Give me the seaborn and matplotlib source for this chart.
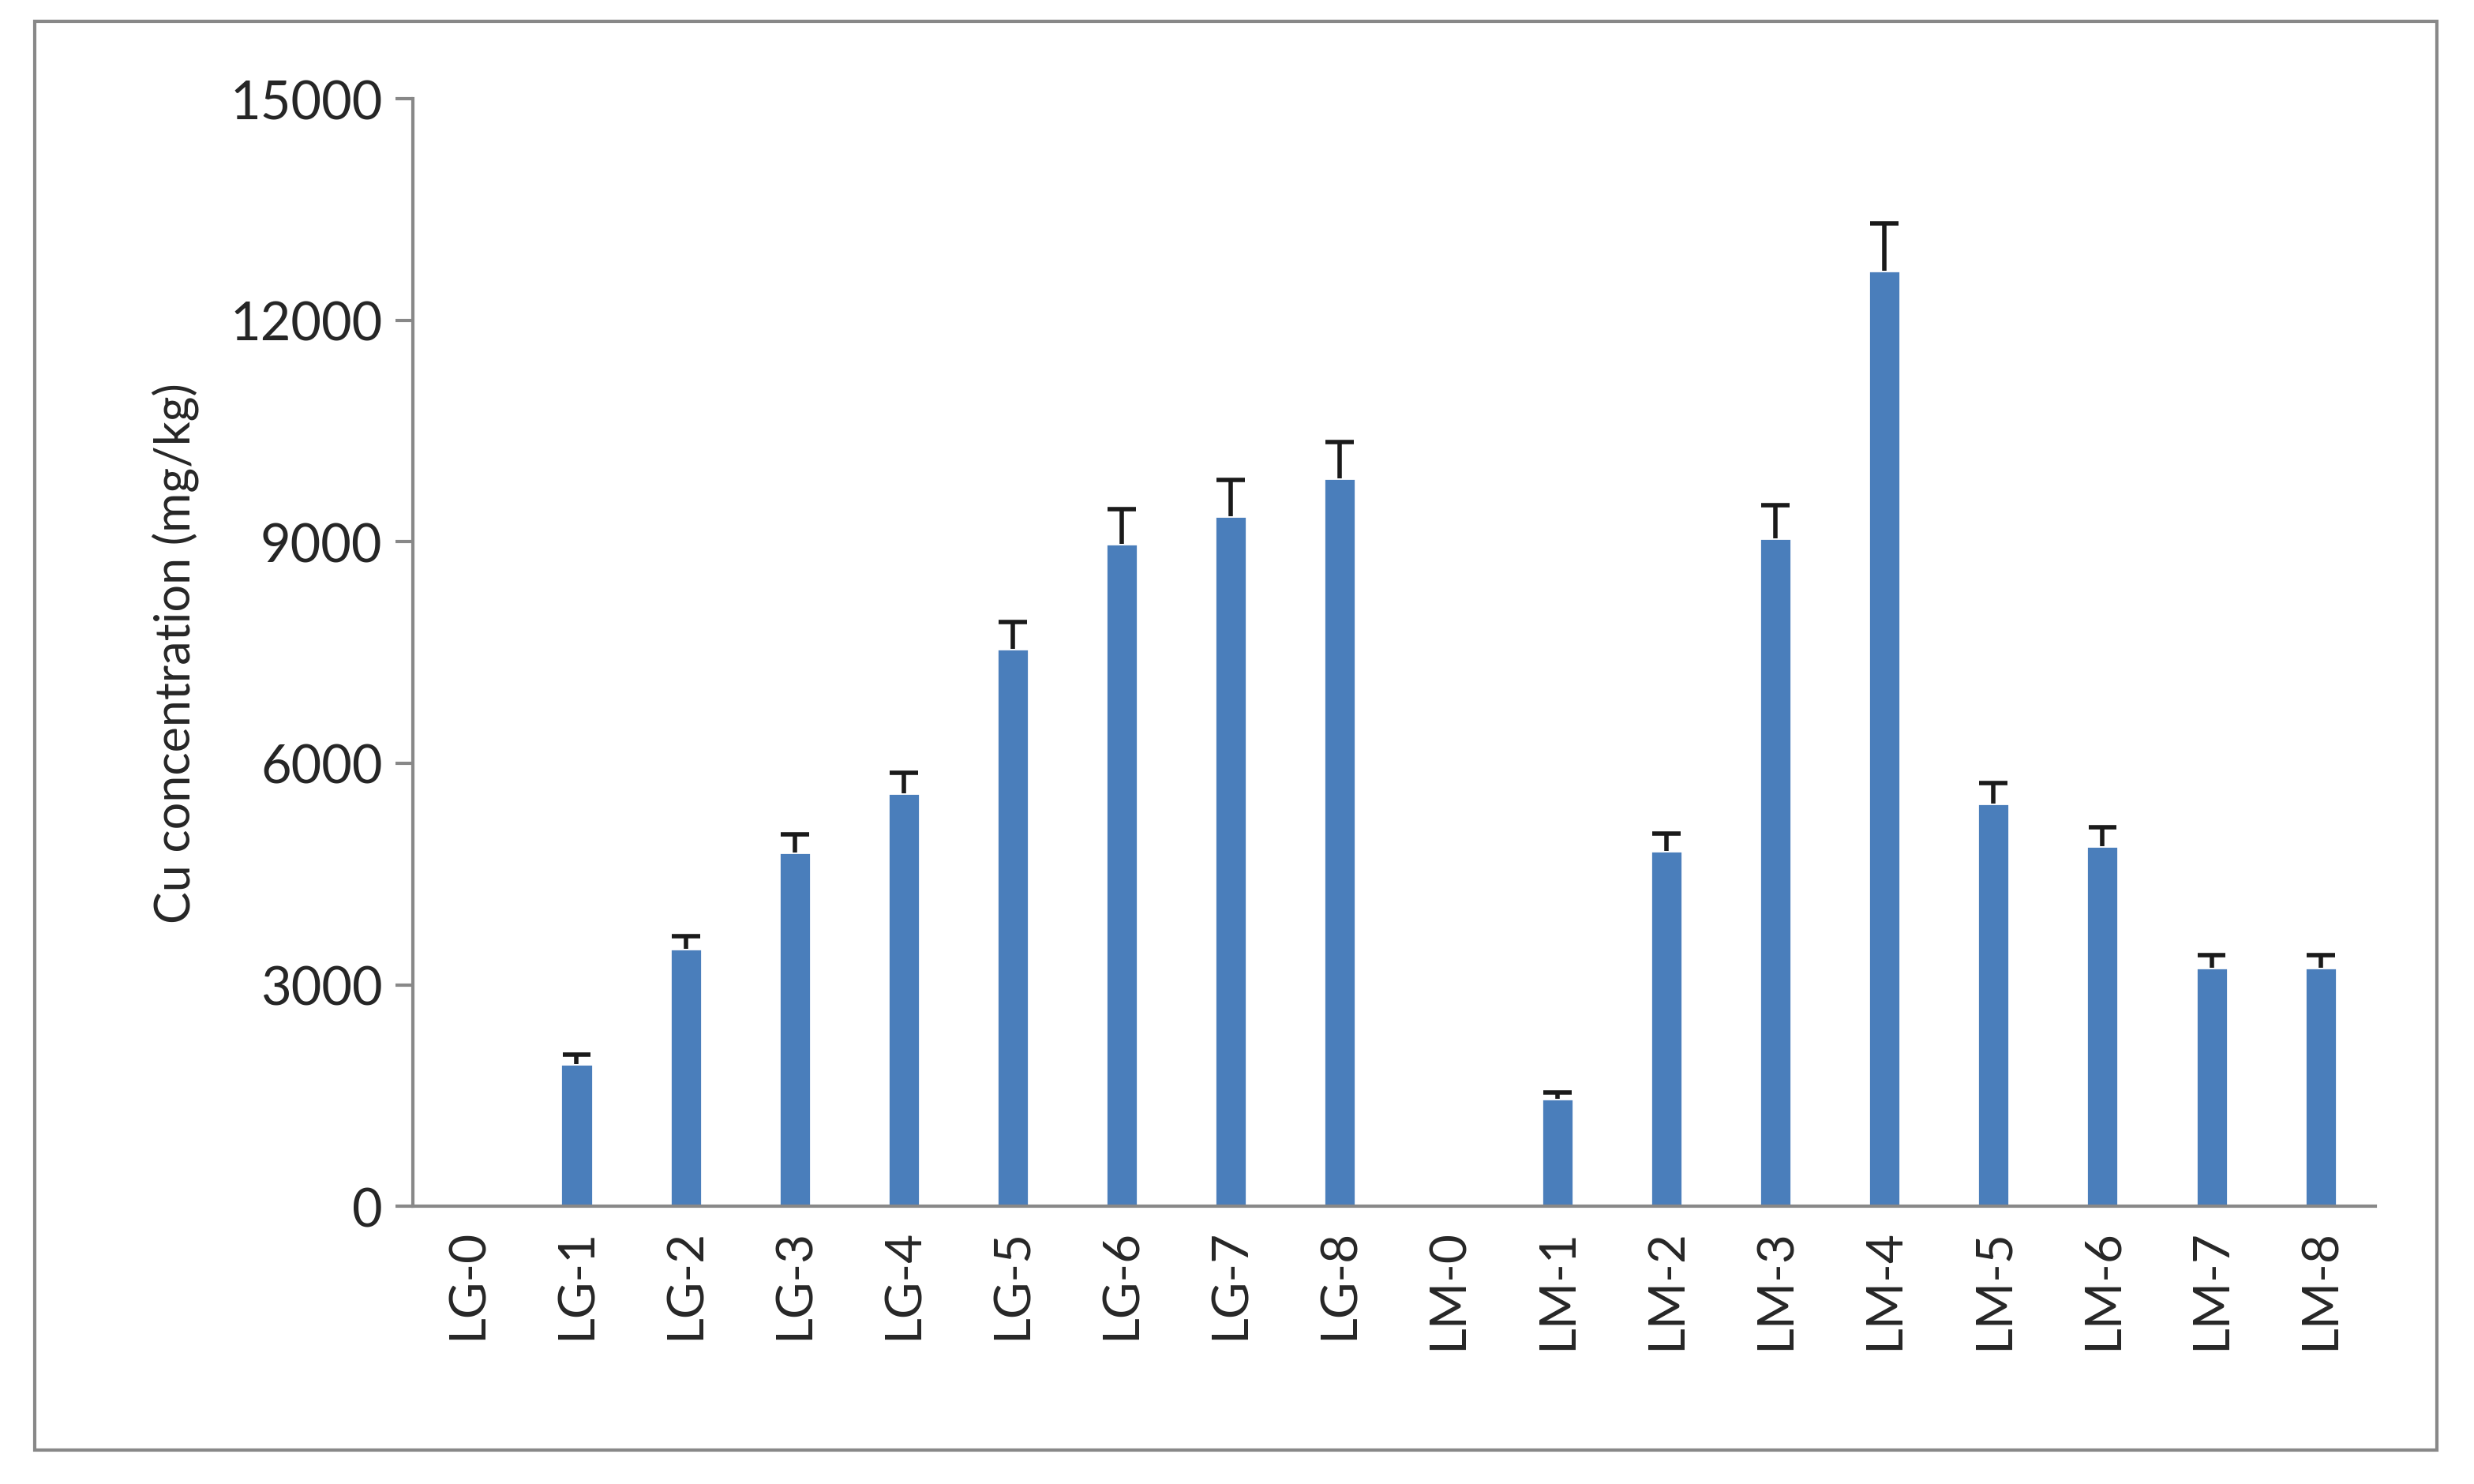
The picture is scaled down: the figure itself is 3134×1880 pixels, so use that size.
import numpy as np
import pandas as pd
import matplotlib
matplotlib.use("Agg")
import matplotlib.pyplot as plt
import seaborn as sns
from matplotlib.patches import Rectangle

# values
samples = ["LG-0", "LG-1", "LG-2", "LG-3", "LG-4", "LG-5", "LG-6", "LG-7", "LG-8",
           "LM-0", "LM-1", "LM-2", "LM-3", "LM-4", "LM-5", "LM-6", "LM-7", "LM-8"]
cu_mean = [20, 1930, 3490, 4790, 5590, 7550, 8970, 9350, 9860,
           20, 1455, 4815, 9050, 12670, 5455, 4880, 3230, 3230]
cu_err = [0, 130, 170, 250, 280, 360, 470, 490, 490,
          0, 90, 235, 450, 640, 280, 255, 170, 170]
y_ticks = [0, 3000, 6000, 9000, 12000, 15000]

sns.set_theme(style="white")
plt.rcParams["font.family"] = ["Lato", "DejaVu Sans"]

df = pd.DataFrame({"sample": samples, "cu": cu_mean, "err": cu_err})

fig = plt.figure(figsize=(15.67, 9.405), dpi=200)
ax = fig.add_axes([0.167, 0.187, 0.793, 0.746])

sns.barplot(data=df, x="sample", y="cu", color="#4a7ebb", saturation=1,
            width=0.29, errorbar=None, ax=ax)

# upper-only error bars (no cap at the bar top)
xs = np.arange(len(samples))
tops = df["cu"] + df["err"]
has_err = df["err"] > 0
ax.vlines(xs[has_err], df["cu"][has_err], tops[has_err], color="#1a1a1a", linewidth=2)
ax.hlines(tops[has_err], xs[has_err] - 0.13, xs[has_err] + 0.13, color="#1a1a1a", linewidth=2)

ax.set_ylim(0, 15000)
ax.set_xlim(-0.5, len(samples) - 0.5)
ax.set_yticks(y_ticks)
ax.set_yticklabels([str(v) for v in y_ticks], fontsize=24)
ax.tick_params(axis="x", labelrotation=90, labelsize=23, length=0, pad=10)
ax.tick_params(axis="y", left=True, length=8, width=1.5, color="#888888", pad=6)
ax.set_xlabel("")
ax.set_ylabel("Cu concentration (mg/kg)", fontsize=22, labelpad=14)

for side in ["top", "right"]:
    ax.spines[side].set_visible(False)
for side in ["left", "bottom"]:
    ax.spines[side].set_color("#888888")
    ax.spines[side].set_linewidth(1.5)

# frame around the whole chart
fig.patches.append(Rectangle((0.014, 0.023), 0.971, 0.962, transform=fig.transFigure,
                             fill=False, edgecolor="#888888", linewidth=1.5))

fig.savefig("out.png", dpi=200)
